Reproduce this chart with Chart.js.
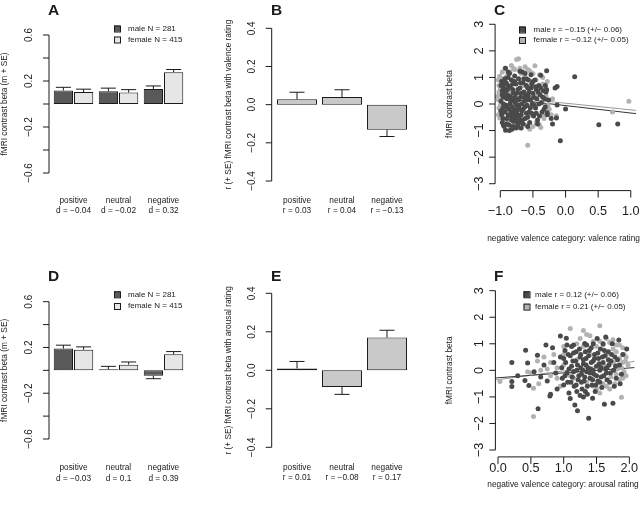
<!DOCTYPE html>
<html>
<head>
<meta charset="utf-8">
<script src="https://cdn.jsdelivr.net/npm/chart.js@4.4.1/dist/chart.umd.min.js"></script>
<style>
html,body{margin:0;padding:0;background:#fff;}
#wrap{position:relative;width:640px;height:508px;overflow:hidden;}
#wrap canvas{position:absolute;left:0;top:0;}
</style>
</head>
<body>
<div id="wrap">
<canvas id="pA" width="640" height="508"></canvas>
<canvas id="pB" width="640" height="508"></canvas>
<canvas id="pC" width="640" height="508"></canvas>
<canvas id="pD" width="640" height="508"></canvas>
<canvas id="pE" width="640" height="508"></canvas>
<canvas id="pF" width="640" height="508"></canvas>
</div>
<script>
// ---- dati ----
const categorie = ["positive", "neutral", "negative"];

// A: beta per sesso (valence)
const A_d = ["d = −0.04", "d = −0.02", "d = 0.32"];
const A_maschi = [0.117, 0.11, 0.13];
const A_maschiSE = [0.028, 0.028, 0.027];
const A_femmine = [0.104, 0.10, 0.277];
const A_femmineSE = [0.025, 0.025, 0.023];

// D: beta per sesso (arousal)
const D_d = ["d = −0.03", "d = 0.1", "d = 0.39"];
const D_maschi = [0.19, 0.01, -0.047];
const D_maschiSE = [0.03, 0.025, 0.026];
const D_femmine = [0.18, 0.05, 0.14];
const D_femmineSE = [0.025, 0.023, 0.024];

// B / E: correlazioni
const B_r = [0.028, 0.04, -0.131];
const B_rSE = [0.037, 0.038, 0.036];
const B_lab = ["r = 0.03", "r = 0.04", "r = −0.13"];
const E_r = [0.01, -0.087, 0.17];
const E_rSE = [0.036, 0.038, 0.038];
const E_lab = ["r = 0.01", "r = −0.08", "r = 0.17"];

// tick
const tickBetaSesso = [0.6, 0.4, 0.2, 0, -0.2, -0.4, -0.6];
const tickBetaSessoLab = ["0.6", null, "0.2", null, "−0.2", null, "−0.6"];
const tickR = [0.4, 0.2, 0, -0.2, -0.4];
const tickRLab = ["0.4", "0.2", "0.0", "−0.2", "−0.4"];
const tickScatterY = [3, 2, 1, 0, -1, -2, -3];
const tickScatterYLab = ["3", "2", "1", "0", "−1", "−2", "−3"];
const C_tickX = [-1, -0.5, 0, 0.5, 1];
const C_tickXLab = ["−1.0", "−0.5", "0.0", "0.5", "1.0"];
const F_tickX = [0, 0.5, 1, 1.5, 2];
const F_tickXLab = ["0.0", "0.5", "1.0", "1.5", "2.0"];

// C: valence rating vs beta  [x, y]
const C_maschi = [
 [-0.98,0.85],[-0.95,0.6],[-0.97,0.35],[-0.99,0.1],[-0.96,-0.15],[-0.98,-0.4],[-0.93,0.95],[-0.92,0.45],
 [-0.9,0.2],[-0.91,-0.05],[-0.93,-0.3],[-0.9,-0.55],[-0.92,-0.99],[-0.88,0.7],[-0.86,1.15],[-0.87,0.3],
 [-0.85,0.0],[-0.87,-0.2],[-0.84,-0.45],[-0.86,-0.8],[-0.83,0.9],[-0.81,0.55],[-0.8,0.15],[-0.82,-0.1],
 [-0.79,-0.35],[-0.8,-0.65],[-0.82,-0.95],[-0.78,1.05],[-0.76,0.75],[-0.75,0.4],[-0.77,0.05],[-0.74,-0.25],
 [-0.76,-0.55],[-0.73,-0.85],[-0.72,0.95],[-0.7,0.6],[-0.69,0.25],[-0.71,-0.05],[-0.68,-0.4],[-0.7,-0.7],
 [-0.66,1.2],[-0.65,0.8],[-0.64,0.45],[-0.63,0.1],[-0.65,-0.2],[-0.62,-0.55],[-0.6,0.95],[-0.58,0.6],
 [-0.57,0.3],[-0.59,-0.05],[-0.56,-0.3],[-0.55,-0.7],[-0.53,1.1],[-0.52,0.75],[-0.5,0.4],[-0.51,0.0],
 [-0.49,-0.45],[-0.47,0.9],[-0.45,0.55],[-0.44,0.2],[-0.46,-0.15],[-0.43,-0.6],[-0.43,-0.75],[-0.41,0.7],
 [-0.39,0.35],[-0.38,1.08],[-0.37,0.05],[-0.36,-0.3],[-0.34,0.5],[-0.32,0.2],[-0.31,-0.1],[-0.3,0.45],
 [-0.28,-0.4],[-0.26,0.15],[-0.29,1.25],[-0.22,-0.55],[-0.2,-0.75],[-0.16,0.6],[-0.13,0.66],[-0.13,-0.04],
 [-0.08,-1.38],[0.0,-0.19],[0.14,1.03],[0.51,-0.78],[0.8,-0.75],[-0.86,-1.0],[-0.76,-0.9],[-0.95,0.25],
 [-0.89,0.55],[-0.67,0.0],[-0.61,0.35],[-0.92,1.35],[-0.88,1.2],[-0.7,1.23],[-0.62,1.15],[-0.29,0.54],
 [-0.28,-0.33],[-0.14,-0.53],[-0.97,-0.7],[-0.94,0.75],[-0.84,0.25],[-0.72,-0.15],[-0.6,-0.35],[-0.54,0.15],
 [-0.99,0.7],[-0.97,0.5],[-0.99,-0.25],[-0.96,-0.55],[-0.95,0.0],[-0.94,-0.85],[-0.91,0.8],[-0.9,0.35],
 [-0.89,-0.15],[-0.88,-0.4],[-0.88,1.0],[-0.85,0.65],[-0.84,0.1],[-0.83,-0.3],[-0.83,-0.6],[-0.81,0.75],
 [-0.8,0.4],[-0.79,-0.2],[-0.78,-0.5],[-0.78,0.85],[-0.77,0.25],[-0.75,-0.05],[-0.74,-0.4],[-0.73,0.55],
 [-0.72,0.15],[-0.71,-0.55],[-0.69,0.8],[-0.68,0.4],[-0.67,-0.25],[-0.66,-0.6],[-0.64,0.95],[-0.63,0.25],
 [-0.62,-0.1],[-0.6,0.7],[-0.59,0.15],[-0.58,-0.5],[-0.57,0.9],[-0.56,0.45],[-0.54,-0.15],[-0.53,0.6],
 [-0.52,-0.35],[-0.5,0.85],[-0.49,0.25],[-0.48,-0.05],[-0.46,0.65],[-0.45,-0.35],[-0.42,0.45],[-0.41,0.0],
 [-0.4,-0.45],[-0.38,0.6],[-0.35,0.25],[-0.33,-0.2],[-0.31,0.7],[-0.95,-0.8],[-0.9,-0.75],[-0.8,-0.85],
 [-0.74,-0.7],[-0.65,-0.75],[-0.58,-0.85],[-0.68,-0.9]
];
const C_femmine = [
 [-1.01,1.04],[-1.02,0.7],[-1.03,0.16],[-1.01,-0.53],[-1.0,-0.3],[-1.02,0.45],[-0.93,1.35],[-0.75,1.67],
 [-0.72,1.7],[-0.47,1.44],[-0.55,1.25],[-0.4,1.1],[-0.45,0.9],[-0.4,-0.78],[-0.38,-0.88],[-0.22,-0.4],
 [-0.14,-0.44],[-0.58,-1.55],[0.72,-0.3],[0.97,0.1],[-0.85,1.2],[-0.8,1.35],[-0.62,1.4],[-0.35,0.75],
 [-0.3,0.3],[-0.25,-0.2],[-0.95,-0.6],[-0.88,-0.75],[-0.7,-0.9],[-0.6,-0.8],[-0.85,0.4],[-0.75,-0.2],
 [-0.65,0.7],[-0.55,-0.4],[-0.45,0.3],[-0.5,-0.85],[-0.33,-0.55],[-0.2,0.2],[-0.98,0.95],[-0.9,1.05],
 [-0.68,1.15],[-0.28,0.85],[-1.0,-0.05],[-0.97,-0.45],
 [-1.03,0.9],[-1.04,0.3],[-1.02,-0.15],[-1.03,-0.4],[-1.0,0.55],[-0.97,1.2],[-0.83,1.45],[-0.78,1.3],
 [-0.7,1.35],[-0.58,1.3],[-0.5,1.15],[-0.35,1.0],[-0.3,0.6],[-0.27,-0.05],[-0.35,-0.4],[-0.45,-0.7],
 [-0.55,-0.95],[-0.78,-0.75],[-0.9,-0.6]
];
// rette di regressione [intercetta, pendenza]
const C_rettaMaschi = [-0.06, -0.28];
const C_rettaFemmine = [0.03, -0.25];

// F: arousal rating vs beta  [x, y]
const F_maschi = [
 [0.21,0.3],[0.21,-0.42],[0.21,-0.61],[0.3,-0.2],[0.42,0.76],[0.41,-0.38],[0.45,0.28],[0.47,-0.57],
 [0.55,-0.05],[0.6,0.57],[0.61,-1.45],[0.65,-0.25],[0.7,0.2],[0.73,0.95],[0.75,-0.4],[0.79,-0.97],
 [0.8,-0.9],[0.83,0.85],[0.85,0.3],[0.88,-0.1],[0.9,-0.7],[0.95,1.29],[1.04,1.21],[0.95,0.5],
 [0.97,0.1],[0.98,-0.3],[1.0,-0.55],[1.02,0.75],[1.03,0.3],[1.05,-0.1],[1.06,-0.45],[1.08,-0.85],
 [1.1,0.55],[1.1,-1.06],[1.12,0.15],[1.13,-0.25],[1.15,0.65],[1.16,-0.6],[1.17,-1.3],[1.18,0.35],
 [1.2,0.0],[1.21,-1.52],[1.22,-0.35],[1.24,0.8],[1.25,0.5],[1.26,0.1],[1.27,-0.15],[1.28,-0.7],
 [1.3,0.4],[1.31,-0.4],[1.32,1.01],[1.33,0.7],[1.34,0.2],[1.35,-0.05],[1.36,-0.9],[1.38,-1.8],
 [1.38,0.55],[1.4,-0.3],[1.41,0.05],[1.42,0.85],[1.43,-0.55],[1.45,0.35],[1.46,-0.15],[1.47,0.6],
 [1.48,-0.8],[1.5,0.15],[1.51,1.2],[1.52,-0.4],[1.53,0.45],[1.55,0.0],[1.56,0.8],[1.57,-0.25],
 [1.58,-0.65],[1.6,0.3],[1.62,-1.28],[1.63,0.55],[1.64,1.26],[1.65,-0.1],[1.66,0.1],[1.68,0.7],
 [1.7,-0.45],[1.72,0.35],[1.74,1.0],[1.75,-1.24],[1.76,0.0],[1.78,0.5],[1.8,-0.3],[1.84,1.14],
 [1.85,0.2],[1.88,-0.15],[1.9,0.6],[1.96,0.8],[1.12,0.9],[1.05,0.95],[1.2,-0.8],[1.3,-1.0],[1.44,-1.05],
 [1.0,0.45],[1.02,-0.2],[1.07,0.6],[1.08,0.05],[1.11,-0.45],[1.14,0.35],[1.15,-0.05],[1.19,0.7],
 [1.19,-0.55],[1.21,0.2],[1.23,-0.2],[1.26,0.6],[1.27,-0.45],[1.29,0.0],[1.3,0.25],[1.32,-0.25],
 [1.34,0.45],[1.36,-0.6],[1.37,0.1],[1.39,0.75],[1.4,-0.1],[1.42,0.3],[1.44,-0.35],[1.45,0.0],
 [1.47,0.45],[1.49,-0.55],[1.5,-0.2],[1.52,0.65],[1.54,0.25],[1.55,-0.45],[1.57,0.1],[1.59,0.5],
 [1.61,-0.2],[1.62,0.75],[1.64,0.05],[1.66,-0.35],[1.68,0.4],[1.69,0.2],[1.71,-0.1],[1.73,0.6],
 [1.77,-0.6],[1.79,0.15],[1.82,0.4],[1.86,-0.5],[1.25,-0.95],[1.33,-0.8],[1.15,0.95],[1.35,0.95],
 [1.6,1.0],[1.45,1.0]
];
const F_femmine = [
 [0.03,-0.42],[0.54,-0.67],[0.62,-0.5],[0.54,-1.74],[0.5,-0.1],[0.7,0.5],[0.8,-0.2],[0.85,0.6],
 [0.9,0.1],[1.0,0.9],[1.1,1.58],[1.55,1.68],[1.88,-1.01],[1.15,-0.3],[1.25,1.2],[1.35,1.35],
 [1.45,1.1],[1.5,0.9],[1.6,0.95],[1.65,0.6],[1.7,1.05],[1.75,0.8],[1.8,0.7],[1.85,0.45],
 [1.9,0.3],[1.92,-0.05],[1.95,0.5],[1.8,0.95],[1.7,0.25],[1.6,-0.5],[1.7,-0.7],[1.78,-0.5],
 [1.85,-0.35],[1.55,-0.85],[1.45,-0.6],[1.35,-0.45],[1.2,0.4],[1.1,-0.2],[1.0,0.2],[0.95,-0.6],
 [1.3,0.9],[1.4,0.6],[1.62,0.15],[1.82,0.05],[1.9,0.85],[1.98,0.2],[1.72,-0.25],[0.75,0.05],
 [0.45,-0.05],[0.65,0.0],
 [1.55,1.1],[1.65,1.2],[1.75,1.15],[1.85,0.95],[1.92,0.6],[1.94,0.35],[1.88,0.1],[1.8,-0.15],
 [1.9,-0.3],[1.65,-0.6],[1.5,-0.7],[1.2,1.0],[1.0,0.6],[0.9,-0.3],[0.8,0.3],[0.6,0.35],
 [1.4,1.3],[1.3,1.5],[1.95,-0.2],[1.76,0.3]
];
const F_rettaMaschi = [-0.28, 0.185];
const F_rettaFemmine = [-0.35, 0.33];

// ---- stile ----
const FONT = '"Liberation Sans", Arial, Helvetica, sans-serif';
const INK = "#1a1a1a";
const GRIGIO_SCURO = "#595959";
const GRIGIO_CHIARO = "#e6e6e6";
const GRIGIO_R = "#c9c9c9";
const PUNTO_SCURO = "#4a4a4a";
const PUNTO_CHIARO = "#b2b2b2";

function linea(ctx, x0, y0, x1, y1){
	ctx.beginPath(); ctx.moveTo(x0, y0); ctx.lineTo(x1, y1); ctx.stroke();
}
function scrivi(ctx, t, x, y, size, opt){
	opt = opt || {};
	ctx.save();
	ctx.font = (opt.bold ? "bold " : "") + size + "px " + FONT;
	ctx.textAlign = opt.align || "center";
	ctx.textBaseline = "middle";
	ctx.translate(x, y);
	if(opt.ruota) ctx.rotate(-Math.PI / 2);
	ctx.fillText(t, 0, 0);
	ctx.restore();
}

// disegna assi "alla R", barre d'errore, etichette e legende
const stileR = {
	id: "stileR",
	afterDatasetsDraw(chart, args, o){
		const ctx = chart.ctx, ca = chart.chartArea;
		const ys = chart.scales.y, xs = chart.scales.x;
		ctx.save();
		ctx.fillStyle = INK; ctx.strokeStyle = INK; ctx.lineWidth = 1;

		// barre d'errore
		(o.errori || []).forEach((se, i) => {
			if(!se) return;
			chart.getDatasetMeta(i).data.forEach((bar, j) => {
				const v = chart.data.datasets[i].data[j];
				const dir = v < 0 ? -1 : 1;
				const y0 = ys.getPixelForValue(v), y1 = ys.getPixelForValue(v + dir * se[j]);
				linea(ctx, bar.x, y0, bar.x, y1);
				linea(ctx, bar.x - 7.5, y1, bar.x + 7.5, y1);
			});
		});

		// asse y
		const ay = o.assY;
		const ax = ca.left - ay.scarto;
		linea(ctx, ax, ys.getPixelForValue(ay.tick[0]), ax, ys.getPixelForValue(ay.tick[ay.tick.length - 1]));
		ay.tick.forEach((t, k) => {
			const p = ys.getPixelForValue(t);
			linea(ctx, ax - 6, p, ax, p);
			if(ay.lab[k]) scrivi(ctx, ay.lab[k], ax - ay.dist, p, ay.size, {ruota: true});
		});
		scrivi(ctx, ay.titolo, ay.titoloX, (ca.top + ca.bottom) / 2, 8.3, {ruota: true});

		// asse x (solo scatter)
		if(o.assX){
			const bx = o.assX;
			const yy = ca.bottom + 0.5;
			linea(ctx, xs.getPixelForValue(bx.tick[0]), yy, xs.getPixelForValue(bx.tick[bx.tick.length - 1]), yy);
			bx.tick.forEach((t, k) => {
				const p = xs.getPixelForValue(t);
				linea(ctx, p, yy, p, yy + 7);
				scrivi(ctx, bx.lab[k], p, bx.labY, 12.7);
			});
			scrivi(ctx, bx.titolo, (ca.left + ca.right) / 2 - 2, bx.titoloY, 8.3);
		}

		// etichette categorie (due righe)
		if(o.cat){
			o.cat.righe1.forEach((t, k) => {
				const p = xs.getPixelForValue(k);
				scrivi(ctx, t, p, ca.bottom + o.cat.dy1, 8.3);
				scrivi(ctx, o.cat.righe2[k], p, ca.bottom + o.cat.dy2, 8.3);
			});
		}

		// legenda
		if(o.legenda){
			const L = o.legenda;
			L.voci.forEach((v, k) => {
				const y = L.y + k * L.passo;
				ctx.fillStyle = v.colore;
				ctx.fillRect(L.x, y - 3, 6, 6);
				ctx.strokeRect(L.x + 0.5, y - 2.5, 6, 6);
				ctx.fillStyle = INK;
				scrivi(ctx, v.testo, L.x + L.dx, y, 8, {align: "left"});
			});
		}

		// lettera del pannello
		scrivi(ctx, o.lettera.t, o.lettera.x, o.lettera.y, 15.5, {bold: true, align: "left"});
		ctx.restore();
	}
};

function pad(l, t, r, b){ return {left: l, top: t, right: 640 - r, bottom: 508 - b}; }

function graficoBarre(id, area, ymin, ymax, datasets, extra){
	return new Chart(document.getElementById(id), {
		type: "bar",
		data: {labels: categorie, datasets: datasets},
		options: {
			responsive: false, animation: false, devicePixelRatio: 1,
			layout: {padding: area},
			scales: {
				x: {display: false},
				y: {display: false, min: ymin, max: ymax}
			},
			plugins: {legend: {display: false}, tooltip: {enabled: false}, stileR: extra}
		},
		plugins: [stileR]
	});
}

function barra(dati, colore, cp, bp){
	return {data: dati, backgroundColor: colore, borderColor: INK, borderWidth: 1,
		borderSkipped: false, categoryPercentage: cp, barPercentage: bp};
}

function punti(arr){ return arr.map(p => ({x: p[0], y: p[1]})); }
function retta(c, x0, x1){ return [{x: x0, y: c[0] + c[1] * x0}, {x: x1, y: c[0] + c[1] * x1}]; }

function graficoScatter(id, area, xmin, xmax, maschi, femmine, rM, rF, extra){
	return new Chart(document.getElementById(id), {
		type: "scatter",
		data: {datasets: [
			{data: punti(maschi), backgroundColor: PUNTO_SCURO, borderWidth: 0, pointRadius: 2.5, order: 0},
			{data: punti(femmine), backgroundColor: PUNTO_CHIARO, borderWidth: 0, pointRadius: 2.5, order: 1},
			{type: "line", data: retta(rM, xmin, xmax), borderColor: "#333", borderWidth: 1, pointRadius: 0, order: 2},
			{type: "line", data: retta(rF, xmin, xmax), borderColor: "#9a9a9a", borderWidth: 1, pointRadius: 0, order: 3}
		]},
		options: {
			responsive: false, animation: false, devicePixelRatio: 1,
			layout: {padding: area},
			scales: {
				x: {type: "linear", display: false, min: xmin, max: xmax},
				y: {display: false, min: -3.24, max: 3.24}
			},
			plugins: {legend: {display: false}, tooltip: {enabled: false}, stileR: extra}
		},
		plugins: [stileR]
	});
}

// ---- A ----
graficoBarre("pA", pad(51, 35, 186, 173), -0.6, 0.6, [
	barra(A_maschi, GRIGIO_SCURO, 0.9, 0.95),
	barra(A_femmine, GRIGIO_CHIARO, 0.9, 0.95)
], {
	errori: [A_maschiSE, A_femmineSE],
	assY: {tick: tickBetaSesso, lab: tickBetaSessoLab, scarto: 2, dist: 20, size: 10, titolo: "fMRI contrast beta (m + SE)", titoloX: 5},
	cat: {righe1: categorie, righe2: A_d, dy1: 28, dy2: 38},
	legenda: {x: 114, y: 28.5, passo: 11, dx: 14, voci: [{testo: "male N = 281", colore: GRIGIO_SCURO}, {testo: "female N = 415", colore: GRIGIO_CHIARO}]},
	lettera: {t: "A", x: 48, y: 11}
});

// ---- B ----
graficoBarre("pB", pad(274.5, 28.3, 409.5, 181), -0.4, 0.4, [
	barra(B_r, GRIGIO_R, 0.89, 1)
], {
	errori: [B_rSE],
	assY: {tick: tickR, lab: tickRLab, scarto: 2.8, dist: 19.4, size: 10, titolo: "r (+ SE) fMRI contrast beta with valence rating", titoloX: 229},
	cat: {righe1: categorie, righe2: B_lab, dy1: 20, dy2: 30},
	lettera: {t: "B", x: 271, y: 11}
});

// ---- C ----
graficoScatter("pC", pad(495.1, 17.9, 636.5, 190.1), -1.08, 1.08, C_maschi, C_femmine, C_rettaMaschi, C_rettaFemmine, {
	assY: {tick: tickScatterY, lab: tickScatterYLab, scarto: 0, dist: 16, size: 12.7, titolo: "fMRI contrast beta", titoloX: 450},
	assX: {tick: C_tickX, lab: C_tickXLab, labY: 211, titolo: "negative valence category: valence rating", titoloY: 238.7},
	legenda: {x: 519, y: 29.5, passo: 10.5, dx: 14.5, voci: [{testo: "male r = −0.15 (+/− 0.06)", colore: PUNTO_SCURO}, {testo: "female r = −0.12 (+/− 0.05)", colore: PUNTO_CHIARO}]},
	lettera: {t: "C", x: 494, y: 11}
});

// ---- D ----
graficoBarre("pD", pad(51, 301.7, 186, 439), -0.6, 0.6, [
	barra(D_maschi, GRIGIO_SCURO, 0.9, 0.95),
	barra(D_femmine, GRIGIO_CHIARO, 0.9, 0.95)
], {
	errori: [D_maschiSE, D_femmineSE],
	assY: {tick: tickBetaSesso, lab: tickBetaSessoLab, scarto: 2, dist: 20, size: 10, titolo: "fMRI contrast beta (m + SE)", titoloX: 5},
	cat: {righe1: categorie, righe2: D_d, dy1: 28.3, dy2: 39.3},
	legenda: {x: 114, y: 294.3, passo: 11.7, dx: 14, voci: [{testo: "male N = 281", colore: GRIGIO_SCURO}, {testo: "female N = 415", colore: GRIGIO_CHIARO}]},
	lettera: {t: "D", x: 48, y: 277}
});

// ---- E ----
graficoBarre("pE", pad(274.5, 293.3, 409.5, 447.3), -0.4, 0.4, [
	barra(E_r, GRIGIO_R, 0.89, 1)
], {
	errori: [E_rSE],
	assY: {tick: tickR, lab: tickRLab, scarto: 2.8, dist: 19.4, size: 10, titolo: "r (+ SE) fMRI contrast beta with arousal rating", titoloX: 229},
	cat: {righe1: categorie, righe2: E_lab, dy1: 20, dy2: 30.5},
	lettera: {t: "E", x: 271, y: 277}
});

// ---- F ----
graficoScatter("pF", pad(495.4, 284.3, 634.6, 456.4), -0.04, 2.08, F_maschi, F_femmine, F_rettaMaschi, F_rettaFemmine, {
	assY: {tick: tickScatterY, lab: tickScatterYLab, scarto: 0, dist: 16, size: 12.7, titolo: "fMRI contrast beta", titoloX: 450},
	assX: {tick: F_tickX, lab: F_tickXLab, labY: 468.3, titolo: "negative valence category: arousal rating", titoloY: 485},
	legenda: {x: 523.5, y: 294.3, passo: 12.3, dx: 11.5, voci: [{testo: "male r = 0.12 (+/− 0.06)", colore: PUNTO_SCURO}, {testo: "female r = 0.21 (+/− 0.05)", colore: PUNTO_CHIARO}]},
	lettera: {t: "F", x: 494, y: 277}
});
</script>
</body>
</html>
